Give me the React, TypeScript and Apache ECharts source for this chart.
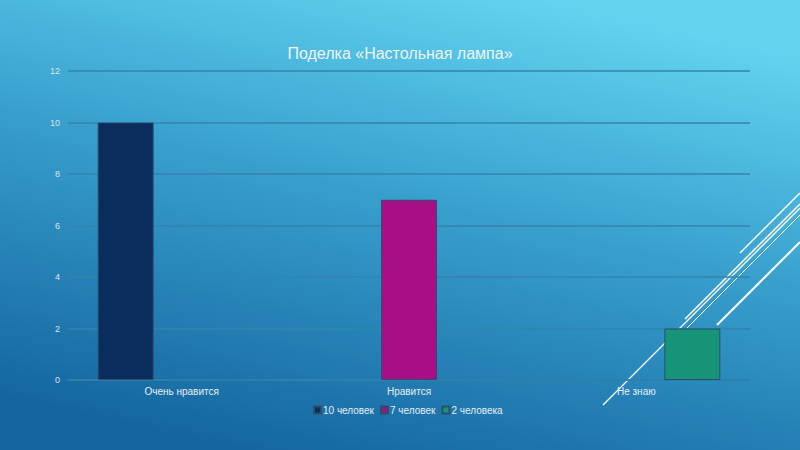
import React, { useEffect, useRef } from "react";
import * as echarts from "echarts";

const title = "Поделка «Настольная лампа»";
const categories = ["Очень нравится", "Нравится", "Не знаю"];
const seriesNames = ["10 человек", "7 человек", "2 человека"];
const seriesValues: (number | null)[][] = [
  [10, null, null],
  [null, 7, null],
  [null, null, 2],
];
const seriesColors = ["#0a2d5e", "#a80f87", "#169478"];
const yTicks = { min: 0, max: 12, interval: 2 };

export default function App() {
  const ref = useRef<HTMLDivElement>(null);
  useEffect(() => {
    if (!ref.current) return;
    const chart = echarts.init(ref.current, undefined, { renderer: "svg" });
    const white = "#ffffff";
    const deco = [
      { x1: 740, y1: 253, x2: 800, y2: 193, w: 1.5 },
      { x1: 685, y1: 319, x2: 800, y2: 204, w: 1.5 },
      { x1: 603, y1: 405, x2: 800, y2: 208, w: 1.3 },
      { x1: 687, y1: 328, x2: 800, y2: 215, w: 1 },
      { x1: 717, y1: 325, x2: 800, y2: 242, w: 2 },
    ];
    chart.setOption({
      animation: false,
      backgroundColor: {
        type: "linear",
        x: 0.3,
        y: 1,
        x2: 0.7,
        y2: 0,
        colorStops: [
          { offset: 0, color: "#1466a0" },
          { offset: 0.55, color: "#389fcd" },
          { offset: 1, color: "#62d4f0" },
        ],
      },
      textStyle: { fontFamily: "Liberation Sans, Arial, sans-serif" },
      title: {
        text: title,
        left: "center",
        top: 40,
        textStyle: { color: "#eef4f7", fontSize: 16, fontWeight: "normal" },
      },
      legend: {
        bottom: 30,
        left: 308,
        itemWidth: 7,
        itemHeight: 7,
        itemGap: 6,
        icon: "rect",
        textStyle: { color: "#e6eef3", fontSize: 10, padding: [0, 0, 0, -3] },
        data: seriesNames,
      },
      grid: { left: 68, right: 50, top: 71, bottom: 70, containLabel: false },
      xAxis: {
        type: "category",
        data: categories,
        axisTick: { show: false },
        axisLine: { lineStyle: { color: "#2f7fa8", width: 1.5 } },
        axisLabel: { color: "#e6eef3", fontSize: 10, margin: 6 },
      },
      yAxis: {
        type: "value",
        min: yTicks.min,
        max: yTicks.max,
        interval: yTicks.interval,
        axisLine: { show: false },
        axisTick: { show: false },
        axisLabel: { color: "#d8e4ea", fontSize: 9, margin: 8 },
        splitLine: { lineStyle: { color: "#3484ab", width: 1.5 } },
      },
      series: seriesNames.map((name, i) => ({
        name,
        type: "bar",
        data: seriesValues[i],
        barWidth: 56,
        barGap: "0%",
        itemStyle: {
          color: seriesColors[i],
          borderColor: "#2b4f6e",
          borderWidth: 1,
        },
      })),
      graphic: deco.map((d) => ({
        type: "line",
        z: 0,
        shape: { x1: d.x1, y1: d.y1, x2: d.x2, y2: d.y2 },
        style: { stroke: white, lineWidth: d.w },
      })),
    });
    return () => chart.dispose();
  }, []);
  return (
    <div
      ref={ref}
      style={{ position: "fixed", left: 0, top: 0, width: 800, height: 450 }}
    />
  );
}
